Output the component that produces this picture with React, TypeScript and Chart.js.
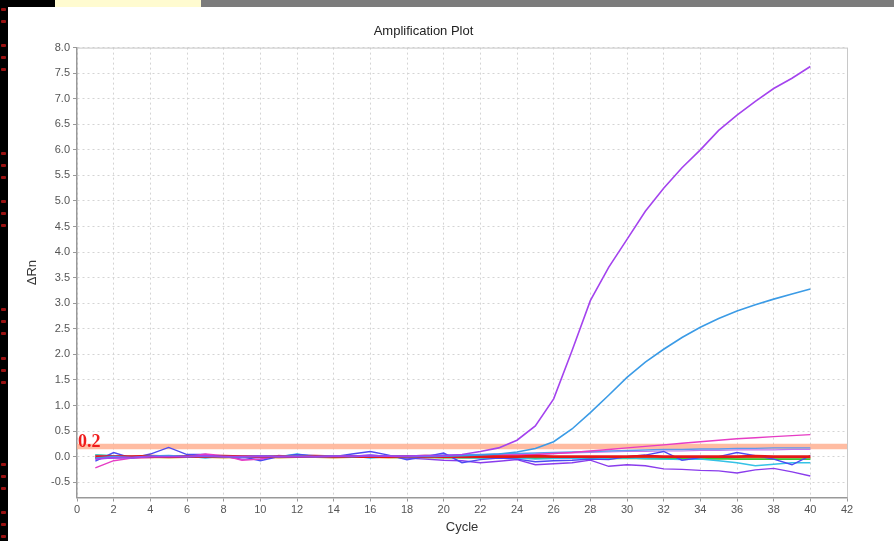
import React, { useEffect, useRef } from "react";
import { Chart, registerables } from "chart.js";

Chart.register(...registerables);

// ---------- data ----------
const cycles = [1, 2, 3, 4, 5, 6, 7, 8, 9, 10, 11, 12, 13, 14, 15, 16, 17, 18, 19, 20,
  21, 22, 23, 24, 25, 26, 27, 28, 29, 30, 31, 32, 33, 34, 35, 36, 37, 38, 39, 40];

const yTicks = [-0.5, 0, 0.5, 1, 1.5, 2, 2.5, 3, 3.5, 4, 4.5, 5, 5.5, 6, 6.5, 7, 7.5, 8];
const xTicks = [0, 2, 4, 6, 8, 10, 12, 14, 16, 18, 20, 22, 24, 26, 28, 30, 32, 34, 36, 38, 40, 42];

const thresholdValue = 0.2;
const thresholdLabel = "0.2";

const ampPurple = [-0.05, -0.02, -0.02, 0, 0, 0, 0.02, 0, 0, 0.01, 0, 0, 0, 0.01, 0.01, 0.02, 0.01, 0.01, 0.02, 0.02,
  0.04, 0.1, 0.17, 0.32, 0.6, 1.13, 2.07, 3.05, 3.7, 4.25, 4.8, 5.25, 5.65, 6.0, 6.38, 6.68, 6.95, 7.2, 7.4, 7.63];

const ampBlue = [-0.03, 0, -0.02, 0.01, 0.02, 0, 0.01, 0, -0.01, 0.01, 0, 0.01, 0, 0.01, 0, 0.02, 0.01, 0, 0.01, 0.01,
  0.02, 0.03, 0.05, 0.09, 0.16, 0.29, 0.54, 0.86, 1.2, 1.55, 1.85, 2.1, 2.33, 2.53, 2.7, 2.85, 2.97, 3.08, 3.18, 3.28];

const ampMagenta = [-0.22, -0.08, -0.03, -0.02, 0, 0, 0.05, 0.02, -0.07, -0.05, 0.02, 0, 0, 0.01, 0, 0.02, 0, 0, 0.01, 0.02,
  0.02, 0.02, 0.03, 0.03, 0.04, 0.06, 0.08, 0.11, 0.14, 0.17, 0.2, 0.23, 0.26, 0.29, 0.32, 0.35, 0.37, 0.39, 0.41, 0.43];

const driftViolet = [-0.04, -0.03, -0.02, -0.01, 0, 0.01, 0.02, 0, -0.05, -0.05, 0, 0.01, 0, 0, 0.01, 0.03, 0, -0.03, -0.05, -0.07,
  -0.08, -0.12, -0.09, -0.06, -0.16, -0.14, -0.12, -0.07, -0.19, -0.16, -0.18, -0.24, -0.25, -0.27, -0.28, -0.32, -0.26, -0.23, -0.3, -0.38];

const noiseIndigo = [-0.09, 0.08, -0.03, 0.05, 0.18, 0.04, 0.04, 0, 0, -0.08, 0, 0.04, 0.02, 0, 0.05, 0.1, 0.03, -0.06, 0, 0.07,
  -0.12, -0.06, -0.03, -0.05, -0.1, -0.08, -0.07, -0.05, -0.06, 0, 0.03, 0.1, -0.07, -0.02, 0, 0.08, 0.02, -0.05, -0.16, 0.02];

const noiseCyan = [0.03, 0.02, 0, 0.01, 0, 0.01, -0.03, 0.01, 0, 0.02, 0, 0.05, 0, 0.02, 0.01, -0.03, 0, -0.02, -0.01, 0,
  -0.02, -0.03, -0.02, -0.03, -0.05, -0.04, -0.03, -0.05, -0.03, -0.03, -0.04, -0.05, -0.06, -0.05, -0.08, -0.12, -0.18, -0.15, -0.12, -0.12];

const riseLightBlue = [-0.02, 0, 0, 0.01, 0, 0.01, 0, 0, 0.01, 0, 0, 0.01, 0, 0, 0.01, 0, 0.01, 0.02, 0.02, 0.03,
  0.03, 0.04, 0.05, 0.06, 0.07, 0.08, 0.09, 0.1, 0.11, 0.12, 0.13, 0.14, 0.14, 0.15, 0.15, 0.16, 0.16, 0.17, 0.17, 0.17];

const riseLavender = [0.01, 0, 0.01, 0, 0.01, 0, 0.01, 0, 0, 0.01, 0, 0, 0.01, 0, 0, 0.01, 0.01, 0.01, 0.02, 0.02,
  0.02, 0.03, 0.03, 0.04, 0.05, 0.06, 0.07, 0.08, 0.09, 0.1, 0.1, 0.11, 0.11, 0.12, 0.12, 0.13, 0.13, 0.13, 0.14, 0.14];

const flatRed = [0, 0, 0, 0.01, 0, 0, 0, 0.01, 0, 0, 0, 0, 0.01, 0, 0, 0, 0, 0, 0.01, 0,
  0, 0, 0, 0, 0.01, 0, 0, 0, 0, 0, 0.01, 0, 0, 0, 0, 0, 0.01, 0, 0, 0];

const flatGreen = [0.03, 0.01, 0, -0.01, 0, 0, -0.01, 0, 0, -0.01, 0, 0, -0.01, -0.01, 0, -0.01, -0.01, -0.02, -0.01, -0.02,
  -0.02, -0.02, -0.03, -0.02, -0.03, -0.03, -0.03, -0.03, -0.04, -0.03, -0.04, -0.04, -0.04, -0.05, -0.04, -0.05, -0.05, -0.05, -0.05, -0.05];

const flatOrange = [-0.02, -0.01, -0.02, -0.01, -0.02, -0.01, -0.01, -0.02, -0.01, -0.01, -0.02, -0.01, -0.01, -0.02, -0.01, -0.01, -0.02, -0.01, -0.02, -0.01,
  -0.02, -0.02, -0.01, -0.02, -0.02, -0.01, -0.02, -0.02, -0.02, -0.01, -0.02, -0.02, -0.02, -0.02, -0.02, -0.02, -0.02, -0.02, -0.02, -0.02];

// ---------- styling ----------
const FONT = "'Liberation Sans', Arial, sans-serif";

const seriesDefs = [
  { name: "A", values: ampPurple, color: "#a443ee", width: 1.6 },
  { name: "B", values: ampBlue, color: "#3b9be6", width: 1.6 },
  { name: "Red", values: flatRed, color: "#e41818", width: 2.6 },
  { name: "C", values: ampMagenta, color: "#e63cc4", width: 1.4 },
  { name: "Indigo", values: noiseIndigo, color: "#4d4af2", width: 1.4 },
  { name: "Violet", values: driftViolet, color: "#8a3cec", width: 1.4 },
  { name: "LightBlue", values: riseLightBlue, color: "#5d98ee", width: 1.4 },
  { name: "Lavender", values: riseLavender, color: "#c07af0", width: 1.2 },
  { name: "Cyan", values: noiseCyan, color: "#34c2e6", width: 1.4 },
  { name: "Green", values: flatGreen, color: "#3cc43c", width: 1.6 },
  { name: "Orange", values: flatOrange, color: "#d8902a", width: 1.6 },
];

const framePlugin = {
  id: "frameAndLabel",
  beforeDatasetsDraw(chart: any) {
    const { ctx, chartArea } = chart;
    ctx.save();
    ctx.strokeStyle = "#c8c8c8";
    ctx.lineWidth = 1;
    ctx.beginPath();
    ctx.moveTo(chartArea.left, chartArea.top + 0.5);
    ctx.lineTo(chartArea.right + 0.5, chartArea.top + 0.5);
    ctx.lineTo(chartArea.right + 0.5, chartArea.bottom);
    ctx.stroke();
    ctx.restore();
  },
  afterDatasetsDraw(chart: any) {
    const { ctx, chartArea } = chart;
    const y = chart.scales.y.getPixelForValue(thresholdValue);
    ctx.save();
    ctx.fillStyle = "#f01c1c";
    ctx.font = "bold 18px 'Liberation Serif', 'Times New Roman', serif";
    ctx.textAlign = "left";
    ctx.textBaseline = "alphabetic";
    ctx.fillText(thresholdLabel, chartArea.left + 1, y + 0.5);
    ctx.restore();
  },
};

export default function App() {
  const ref = useRef<HTMLCanvasElement | null>(null);

  useEffect(() => {
    if (!ref.current) return;
    const datasets: any[] = seriesDefs.map((s) => ({
      label: s.name,
      data: cycles.map((c, i) => ({ x: c, y: s.values[i] })),
      borderColor: s.color,
      backgroundColor: s.color,
      borderWidth: s.width,
      pointRadius: 0,
      tension: 0,
      fill: false,
    }));
    datasets.push({
      label: "Threshold",
      data: [
        { x: xTicks[0], y: thresholdValue },
        { x: xTicks[xTicks.length - 1], y: thresholdValue },
      ],
      borderColor: "rgba(255,176,146,0.85)",
      borderWidth: 5.5,
      pointRadius: 0,
      fill: false,
    });

    const chart = new Chart(ref.current, {
      type: "line",
      data: { datasets },
      plugins: [framePlugin],
      options: {
        responsive: false,
        animation: false,
        devicePixelRatio: 1,
        layout: { padding: { left: 0, right: 47, top: 0, bottom: 0 } },
        plugins: {
          legend: { display: false },
          tooltip: { enabled: false },
          title: {
            display: true,
            text: "Amplification Plot",
            color: "#222",
            font: { family: FONT, size: 13, weight: "normal" },
            padding: { top: 24, bottom: 8 },
          },
        },
        scales: {
          x: {
            type: "linear",
            min: xTicks[0],
            max: xTicks[xTicks.length - 1],
            afterFit(scale: any) {
              scale.height = 43.5;
            },
            afterBuildTicks(scale: any) {
              scale.ticks = xTicks.map((v) => ({ value: v }));
            },
            ticks: {
              color: "#555",
              font: { family: FONT, size: 11 },
              padding: 2,
              maxRotation: 0,
              autoSkip: false,
              callback: (v: any) => String(v),
            },
            grid: {
              color: "#d4d4d4",
              lineWidth: 1,
              tickLength: 4,
              tickColor: "#999",
              drawTicks: true,
            },
            border: { display: true, color: "#999", width: 1.5, dash: [2, 3] },
            title: {
              display: true,
              text: "Cycle",
              color: "#333",
              font: { family: FONT, size: 13 },
              padding: { top: 0, bottom: 6 },
            },
          },
          y: {
            type: "linear",
            min: -0.8,
            max: 8.0,
            afterFit(scale: any) {
              scale.width = 77;
            },
            afterBuildTicks(scale: any) {
              scale.ticks = yTicks.map((v) => ({ value: v }));
            },
            ticks: {
              color: "#555",
              font: { family: FONT, size: 11 },
              padding: 3,
              autoSkip: false,
              callback: (v: any) => Number(v).toFixed(1),
            },
            grid: {
              color: "#d4d4d4",
              lineWidth: 1,
              tickLength: 4,
              tickColor: "#999",
              drawTicks: true,
            },
            border: { display: true, color: "#999", width: 1.5, dash: [2, 3] },
            title: {
              display: true,
              text: "ΔRn",
              color: "#333",
              font: { family: FONT, size: 13 },
              padding: { top: 25, bottom: 0 },
            },
          },
        },
      },
    } as any);
    return () => chart.destroy();
  }, []);

  const redMarks = [-4, 8, 20, 44, 56, 68, 152, 164, 176, 200, 212, 224, 308, 320, 332, 357, 369, 381, 463, 475, 487, 511, 523, 535];

  return (
    <div style={{ position: "fixed", left: 0, top: 0, width: 894, height: 541, background: "#fff", overflow: "hidden" }}>
      <canvas ref={ref} width={894} height={541} style={{ position: "absolute", left: 0, top: 0, width: 894, height: 541 }} />
      <div style={{ position: "absolute", left: 0, top: 0, width: 8, height: 541, background: "#000" }} />
      {redMarks.map((m, i) => (
        <div key={i} style={{ position: "absolute", left: 1, top: m, width: 5, height: 3, background: "#9a1212", borderRadius: 1 }} />
      ))}
      <div style={{ position: "absolute", left: 0, top: 0, width: 55, height: 7, background: "#000" }} />
      <div style={{ position: "absolute", left: 55, top: 0, width: 146, height: 7, background: "#fffbd0" }} />
      <div style={{ position: "absolute", left: 201, top: 0, width: 693, height: 7, background: "#7c7c7c" }} />
    </div>
  );
}
